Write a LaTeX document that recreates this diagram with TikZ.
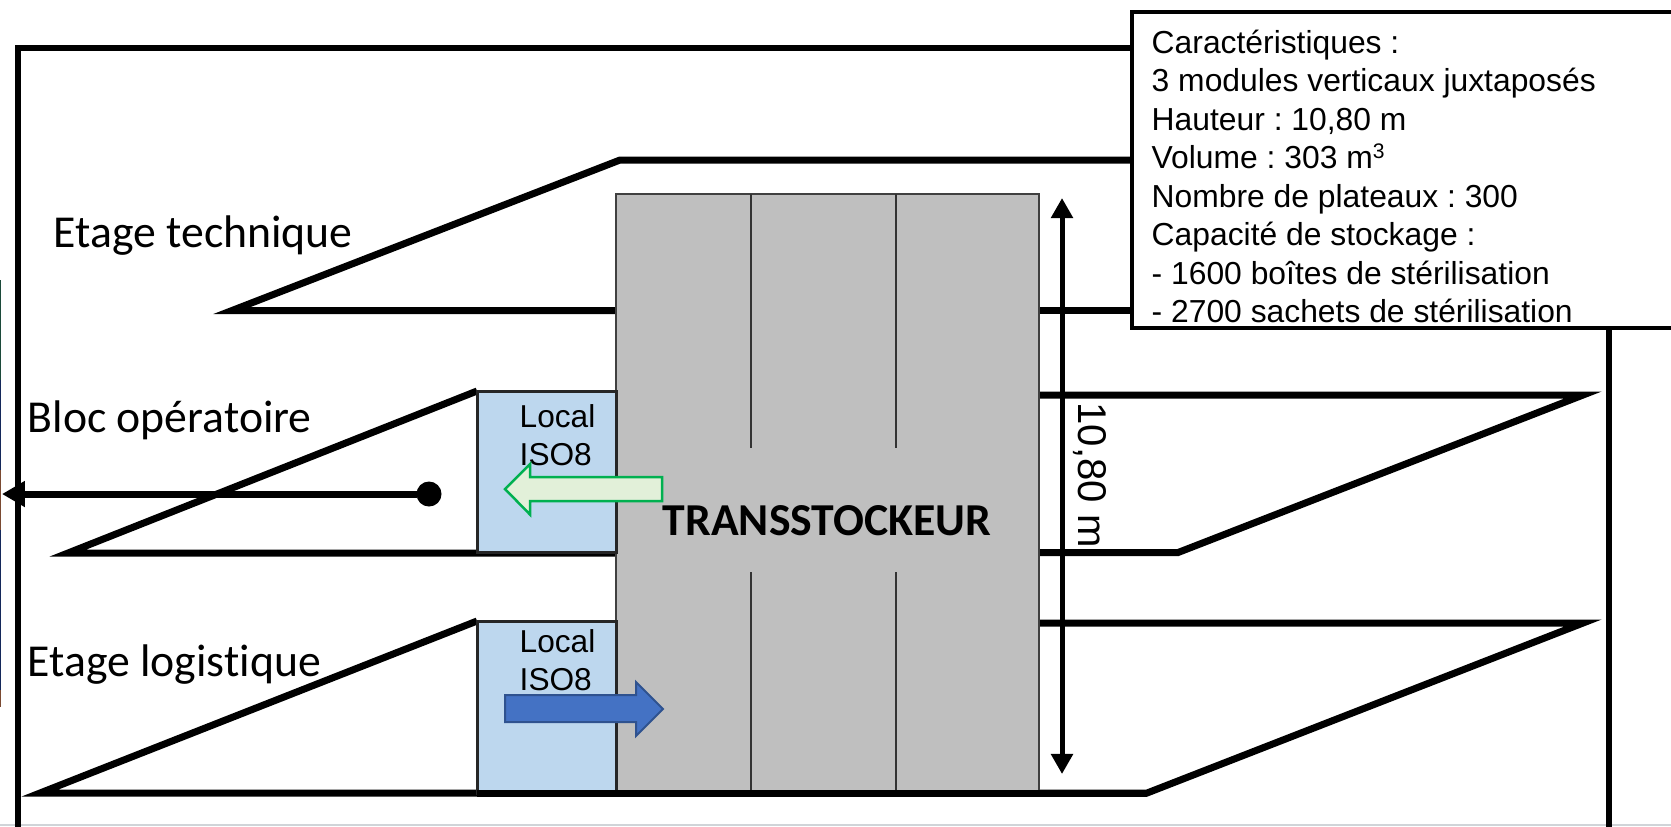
\documentclass[tikz,border=0pt]{standalone}
\usepackage{fontspec}
\setmainfont{Liberation Sans}
\newfontfamily\calibrifont[Ligatures=CommonOff]{Carlito}
\usetikzlibrary{arrows.meta}
\definecolor{TowerGrey}{HTML}{BFBFBF}
\definecolor{LocalBlue}{HTML}{BDD7EE}
\definecolor{ExitFill}{HTML}{E2F0D9}
\definecolor{ExitLine}{HTML}{00B050}
\definecolor{EntryFill}{HTML}{4472C4}
\definecolor{EntryLine}{HTML}{2F528F}
\definecolor{StripNavy}{HTML}{14285A}
\definecolor{StripBrown}{HTML}{7A4A32}
\definecolor{StripGreen}{HTML}{1C4A3A}
\definecolor{EdgeGrey}{HTML}{D0D4D8}
\tikzset{
  wall/.style={line width=0.06cm},
  floorline/.style={line width=0.07cm},
  towerbox/.style={draw=black!75,line width=0.02cm,fill=TowerGrey,anchor=north west,outer sep=0pt,minimum width=4.23cm,minimum height=5.99cm,inner sep=0pt},
  localbox/.style={draw=black!85,line width=0.03cm,fill=LocalBlue,anchor=north west,outer sep=0pt,minimum width=1.39cm,inner sep=0pt},
  moduleline/.style={black!80,line width=0.012cm},
  floorlabel/.style={anchor=base west,inner sep=0pt,font=\calibrifont\fontsize{13}{15}\selectfont},
  locallabel/.style={anchor=north west,inner sep=0pt,align=left,font=\fontsize{9}{10.8}\selectfont},
  dimarrow/.style={line width=0.05cm,{Triangle[length=5.7pt,width=6pt]}-{Triangle[length=5.7pt,width=6pt]}},
  exitarrow/.style={draw=ExitLine,fill=ExitFill,line width=0.025cm},
  entryarrow/.style={draw=EntryLine,fill=EntryFill,line width=0.02cm},
}
\begin{document}
\begin{tikzpicture}[x=0.01cm,y=-0.01cm]
  \useasboundingbox (0,0) rectangle (1671,826);
  \draw[EdgeGrey,line width=0.02cm] (0,825) -- (1671,825);
  \foreach \ya/\yb/\stripcol in {280/380/StripGreen,380/470/StripNavy,470/530/StripBrown,530/690/StripNavy,690/707/StripBrown}
    \fill[\stripcol] (0,\ya) rectangle (1.5,\yb);

  \draw[wall] (1132,48) -- (18,48) -- (18,830);
  \draw[wall] (1609,320) -- (1609,830);

  \draw[floorline] (1132,160) -- (620,160) -- (232,310.5) -- (616,310.5);
  \draw[floorline] (1039,310.5) -- (1132,310.5);
  \draw[floorline] (477,391) -- (68,553) -- (616,553);
  \draw[floorline] (1039,395) -- (1583,395) -- (1178,552.5) -- (1039,552.5);
  \draw[floorline] (477,621) -- (40,793) -- (1147,793) -- (1583,623) -- (1039,623);

  \node[towerbox] (tower) at (616,194) {};
  \node[localbox,minimum height=1.61cm] (localtop) at (477,391) {};
  \node[localbox,minimum height=1.72cm] (localbottom) at (477,621) {};
  \draw[moduleline] (751,194) -- (751,448);
  \draw[moduleline] (896,194) -- (896,448);
  \draw[moduleline] (751,572) -- (751,793);
  \draw[moduleline] (896,572) -- (896,793);
  \draw[floorline] (477,793) -- (1147,793);

  \node[anchor=base,inner sep=0pt,font=\calibrifont\bfseries\fontsize{13}{15}\selectfont] (towerlabel) at (827,535) {TRANSSTOCKEUR};
  \node[locallabel] (localtoptext) at (519,404) {Local\\ISO8};
  \node[locallabel] (localbottomtext) at (519,629) {Local\\ISO8};

  \node[floorlabel] (technique) at (53,247) {Etage technique};
  \node[floorlabel] (bloc) at (27,432) {Bloc opératoire};
  \node[floorlabel] (logistique) at (27,676) {Etage logistique};

  \draw[exitarrow] (662,477) -- (530,477) -- (530,464) -- (505,489) -- (530,514.5) -- (530,501) -- (662,501) -- cycle;
  \draw[entryarrow] (505,695) -- (636,695) -- (636,682) -- (663,709) -- (636,736) -- (636,722) -- (505,722) -- cycle;

  \node[circle,fill=black,outer sep=0pt,minimum size=0.25cm,inner sep=0pt] (dot) at (429,494) {};
  \coordinate (exitpoint) at (2,494);
  \draw[line width=0.07cm,-{Triangle[length=6.5pt,width=7pt]}] (dot) -- (exitpoint);

  \coordinate (dimtop) at (1062,198);
  \coordinate (dimbottom) at (1062,774);
  \draw[dimarrow] (dimtop) -- (dimbottom);
  \node[rotate=-90,inner sep=0pt,font=\fontsize{11.4}{13}\selectfont] (dimlabel) at (1090,475) {10,80 m};

  \node[draw=black,line width=0.04cm,fill=white,anchor=north west,outer sep=0pt,minimum width=5.6cm,minimum height=3.16cm,inner sep=0pt] (charbox) at (1132,12) {};
  \node[
    anchor=north west,
    inner sep=0pt,
    align=left,
    font=\frenchspacing\fontsize{9.05}{10.95}\selectfont
  ] (chartext) at (1151,29) {
    Caractéristiques :\\
    3 modules verticaux juxtaposés\\
    Hauteur : 10,80 m\\
    Volume : 303 m\raisebox{0.33em}{\fontsize{6}{6}\selectfont 3}\\
    Nombre de plateaux : 300\\
    Capacité de stockage :\\
    - 1600 boîtes de stérilisation\\
    - 2700 sachets de stérilisation
  };
\end{tikzpicture}
\end{document}
